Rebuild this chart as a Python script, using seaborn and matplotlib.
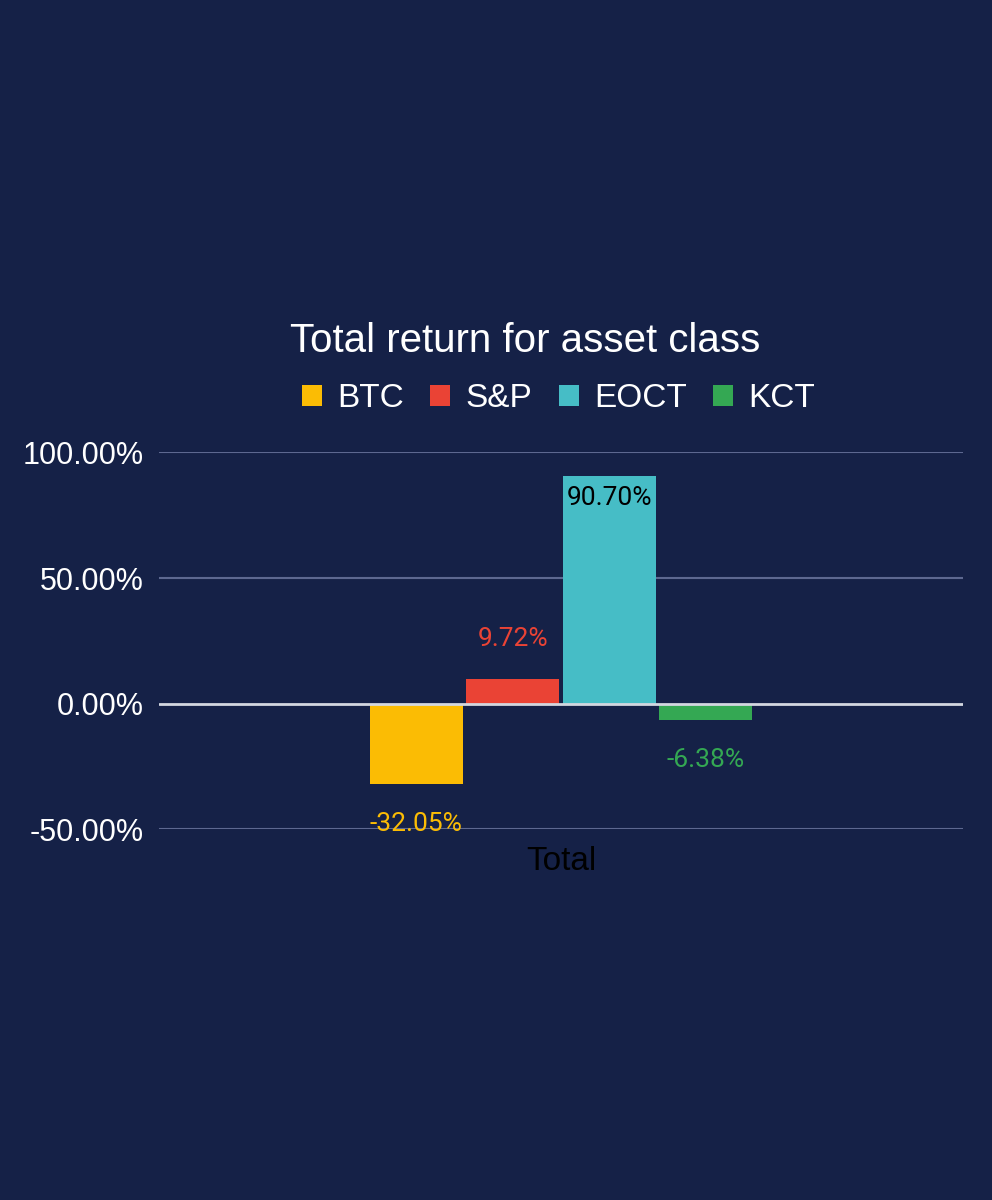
import numpy as np
import matplotlib.pyplot as plt
import pandas as pd
import seaborn as sns
from matplotlib.patches import Patch

# data
assets = ["BTC", "S&P", "EOCT", "KCT"]
returns = [-32.05, 9.72, 90.70, -6.38]
category = ["Total", "Total", "Total", "Total"]
colors = ["#FBBC04", "#EA4335", "#46BDC6", "#34A853"]
label_colors = ["#FBBC04", "#EA4335", "#000000", "#34A853"]
yticks = [-50, 0, 50, 100]

bg = "#152147"

sns.set_theme(style="dark")
plt.rcParams["font.family"] = ["Liberation Sans", "DejaVu Sans"]

df = pd.DataFrame({"cat": category, "asset": assets, "ret": returns})

fig = plt.figure(figsize=(9.92, 12), dpi=100, facecolor=bg)
ax = fig.add_axes([0.160, 0.309, 0.811, 0.314])
ax.set_facecolor(bg)

sns.barplot(data=df, x="cat", y="ret", hue="asset", hue_order=assets,
            palette=colors, width=0.48, gap=0.04, legend=False, ax=ax,
            saturation=1, edgecolor="none", zorder=3)

ax.set_ylim(-50, 100)
ax.set_xlim(-0.5, 0.5)
ax.set_yticks(yticks)
ax.set_yticklabels([f"{v:.2f}%" for v in yticks], color="white", fontsize=22)
ax.tick_params(axis="y", length=0, pad=11)
ax.tick_params(axis="x", length=0, pad=12, labelsize=24, labelcolor="black")
ax.set_xlabel("")
ax.set_ylabel("")
for s in ax.spines.values():
    s.set_visible(False)
ax.grid(False)
for v in yticks:
    if v == 0:
        continue
    ax.axhline(v, color="#5d6890", lw=1.5, zorder=1)
ax.axhline(0, color="#d3d7e0", lw=2, zorder=4)

# data labels
for i, cont in enumerate(ax.containers):
    for bar in cont:
        h = bar.get_height()
        xc = bar.get_x() + bar.get_width() / 2
        if h > 80:
            off = -16
        elif h >= 0:
            off = 29
        else:
            off = -29
        ax.annotate(f"{h:.2f}%", (xc, h), xytext=(0, off), textcoords="offset points",
                    ha="center", va="center", fontsize=19, color=label_colors[i],
                    family=["Roboto", "DejaVu Sans"], zorder=5)

fig.text(0.529, 0.716, "Total return for asset class", ha="center", va="center",
         color="white", fontsize=29)

handles = [Patch(facecolor=c, edgecolor="none") for c in colors]
fig.legend(handles, assets, loc="center", bbox_to_anchor=(0.563, 0.668), ncol=4,
           frameon=False, fontsize=24, labelcolor="white", handlelength=0.6,
           handleheight=0.6, handletextpad=0.45, columnspacing=0.8)

fig.savefig("out.png", dpi=100, facecolor=bg)
